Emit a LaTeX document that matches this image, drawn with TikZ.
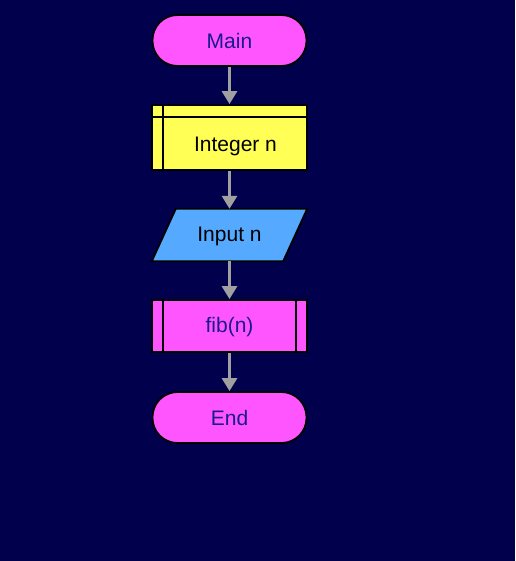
\documentclass[tikz,border=0pt]{standalone}
\usepackage{fontspec}
\setmainfont{Liberation Sans}
\usetikzlibrary{arrows.meta}
\definecolor{bg}{HTML}{00004D}
\definecolor{pinkfill}{HTML}{FF55FF}
\definecolor{yellowfill}{HTML}{FFFF55}
\definecolor{bluefill}{HTML}{55AAFF}
\definecolor{navytext}{HTML}{1A1A8C}
\definecolor{arrowgray}{HTML}{A0A0A0}
\tikzset{
  terminal/.style={draw=black, line width=1.8pt, fill=pinkfill, rounded corners=25pt,
    minimum width=154pt, minimum height=51pt, inner sep=0pt, text=navytext, font=\fontsize{21}{25}\selectfont},
  boxshape/.style={draw=black, line width=1.8pt, minimum width=155pt, inner sep=0pt},
  plainshape/.style={minimum width=155pt, inner sep=0pt},
  lbl/.style={inner sep=0pt, font=\fontsize{21}{25}\selectfont},
  flow/.style={draw=arrowgray, line width=3pt, -{Triangle[width=15pt,length=13pt]}}
}
\begin{document}
\begin{tikzpicture}[x=1pt,y=1pt]
\fill[bg] (0,0) rectangle (515,-561);
\useasboundingbox (0,0) rectangle (515,-561);
% Main
\node[terminal] (main) at (229.5,-40.5) {Main};
% Integer n
\node[boxshape, fill=yellowfill, minimum height=65pt] (integer) at (229.5,-137.5) {};
\draw[line width=1.8pt] ([xshift=12pt]integer.north west) -- ([xshift=12pt]integer.south west);
\draw[line width=1.8pt] ([yshift=-13pt]integer.north west) -- ([yshift=-13pt]integer.north east);
\node[lbl, text=black] (integerlabel) at (235.5,-146.5) {Integer n};
% Input n
\node[plainshape, minimum height=52pt] (input) at (229.5,-235) {};
\filldraw[fill=bluefill, draw=black, line width=1.8pt, line join=miter]
  ([xshift=24pt]input.north west) -- (input.north east) -- ([xshift=-24pt]input.south east) -- (input.south west) -- cycle;
\node[lbl, text=black] (inputlabel) at ([yshift=-1.5pt]input.center) {Input n};
% fib(n)
\node[boxshape, fill=pinkfill, minimum height=52pt] (fib) at (229.5,-326) {};
\draw[line width=1.8pt] ([xshift=12pt]fib.north west) -- ([xshift=12pt]fib.south west);
\draw[line width=1.8pt] ([xshift=-12pt]fib.north east) -- ([xshift=-12pt]fib.south east);
\node[lbl, text=navytext] (fiblabel) at ([yshift=-1.5pt]fib.center) {fib(n)};
% End
\node[terminal] (end) at (229.5,-417.5) {End};
% connectors
\draw[flow] (main.south) -- (integer.north);
\draw[flow] (integer.south) -- (input.north);
\draw[flow] (input.south) -- (fib.north);
\draw[flow] (fib.south) -- (end.north);
\end{tikzpicture}
\end{document}
